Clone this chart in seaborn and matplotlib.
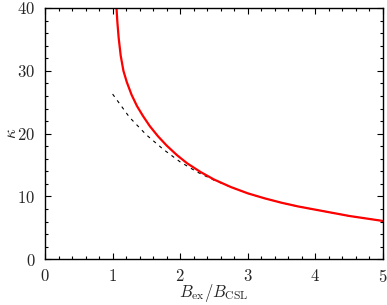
import matplotlib
matplotlib.use("Agg")
import matplotlib.pyplot as plt
import pandas as pd
import seaborn as sns

# kappa vs B_ex/B_CSL
full_x = [1.055, 1.07, 1.09, 1.12, 1.16, 1.21, 1.28, 1.36, 1.45, 1.55, 1.67,
          1.8, 1.95, 2.1, 2.3, 2.5, 2.75, 3.0, 3.25, 3.5, 3.75, 4.0, 4.25,
          4.5, 4.75, 5.0]
full_kappa = [40.5, 37.8, 35.2, 32.4, 30.0, 28.2, 26.2, 24.4, 22.8, 21.2, 19.6,
              18.1, 16.6, 15.3, 13.9, 12.7, 11.5, 10.5, 9.7, 9.0, 8.4, 7.9, 7.4,
              6.9, 6.5, 6.1]

approx_x = [1.0, 1.25, 1.5, 1.75, 2.0, 2.25, 2.5, 2.75, 3.0, 3.25, 3.5, 3.75,
            4.0, 4.25, 4.5, 4.75, 5.0]
approx_kappa = [26.3, 22.6, 19.8, 17.5, 15.5, 13.9, 12.6, 11.5, 10.5, 9.7, 9.0,
                8.4, 7.9, 7.4, 6.9, 6.5, 6.1]

sns.set_style("ticks")
plt.rcParams["font.family"] = "serif"
plt.rcParams["font.serif"] = ["cmr10"]
plt.rcParams["mathtext.fontset"] = "cm"
plt.rcParams["axes.formatter.use_mathtext"] = True
plt.rcParams["font.size"] = 12

fig = plt.figure(figsize=(3.87, 3.05), dpi=100)
ax = fig.add_axes([0.1163, 0.1498, 0.8734, 0.824])

df_full = pd.DataFrame({"x": full_x, "kappa": full_kappa})
df_approx = pd.DataFrame({"x": approx_x, "kappa": approx_kappa})

sns.lineplot(data=df_approx, x="x", y="kappa", ax=ax, color="black",
             lw=0.8, linestyle=(0, (3, 4)))
sns.lineplot(data=df_full, x="x", y="kappa", ax=ax, color="#ff0000", lw=1.6)

ax.set_xlim(0, 5)
ax.set_ylim(0, 40)
ax.set_xticks([0, 1, 2, 3, 4, 5])
ax.set_xticks([i * 0.2 for i in range(26)], minor=True)
ax.set_yticks([0, 10, 20, 30, 40])
ax.set_yticks(list(range(0, 41, 2)), minor=True)
ax.tick_params(which="both", direction="in", top=True, right=True,
               width=0.8, color="black", labelsize=12)
ax.tick_params(which="major", length=4, pad=7)
ax.tick_params(axis="x", which="major", pad=6)
ax.tick_params(which="minor", length=2.5)
for s in ax.spines.values():
    s.set_linewidth(1.0)
    s.set_color("black")

ax.set_xlabel(r"$B_{\rm ex}/B_{\rm CSL}$", fontsize=12, labelpad=-2)
ax.set_ylabel(r"$\kappa$", fontsize=12, labelpad=-1)

fig.savefig("out.png", dpi=100)
